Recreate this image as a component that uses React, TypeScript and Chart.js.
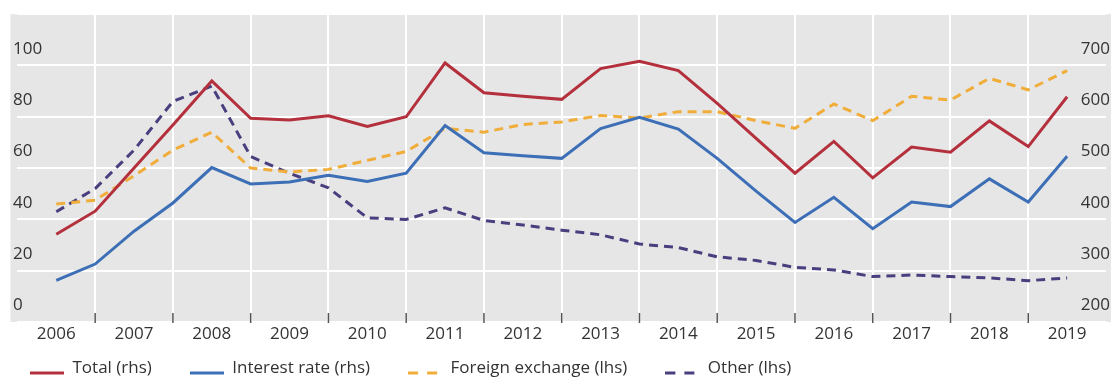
import React, { useEffect, useRef } from 'react';
import { Chart, registerables } from 'chart.js';

Chart.register(...registerables);

// Half-year observation periods
const periods = [
  'Jun 2006', 'Dec 2006', 'Jun 2007', 'Dec 2007', 'Jun 2008', 'Dec 2008',
  'Jun 2009', 'Dec 2009', 'Jun 2010', 'Dec 2010', 'Jun 2011', 'Dec 2011',
  'Jun 2012', 'Dec 2012', 'Jun 2013', 'Dec 2013', 'Jun 2014', 'Dec 2014',
  'Jun 2015', 'Dec 2015', 'Jun 2016', 'Dec 2016', 'Jun 2017', 'Dec 2017',
  'Jun 2018', 'Dec 2018', 'Jun 2019',
];

const yearLabels = [
  '2006', '2007', '2008', '2009', '2010', '2011', '2012',
  '2013', '2014', '2015', '2016', '2017', '2018', '2019',
];

const yearBoundaries = [2007, 2008, 2009, 2010, 2011, 2012, 2013, 2014, 2015, 2016, 2017, 2018, 2019];

// Right-hand scale
const totalRhs = [
  371, 416, 500, 584, 670, 597, 594, 602, 581, 600, 705, 647, 640, 634,
  694, 708, 690, 626, 558, 490, 552, 481, 541, 531, 592, 542, 639,
];
const interestRateRhs = [
  281, 313, 377, 432, 501, 469, 473, 486, 474, 490, 583, 530, 524, 519,
  577, 599, 576, 519, 455, 394, 443, 382, 434, 425, 479, 434, 523,
];

// Left-hand scale
const foreignExchangeLhs = [
  46, 47.5, 57, 67, 74, 60, 58.5, 59.5, 63, 66.5, 75.5, 74, 77, 78,
  80.5, 79.5, 82, 82, 78.5, 75.5, 85, 78.5, 88, 86.5, 95, 90.5, 98,
];
const otherLhs = [
  43, 52, 67, 86, 92, 64.5, 58, 52.3, 40.6, 40, 44.5, 39.6, 37.8, 35.8,
  34, 30.4, 29, 25.4, 24, 21.3, 20.3, 17.7, 18.3, 17.7, 17.2, 16.1, 17.2,
];

const leftMin = 0;
const leftMax = 120;
const leftStep = 20;
const rightMin = 200;
const rightMax = 800;
const rightStep = 100;

const RED = '#b3303c';
const BLUE = '#3d6fb6';
const ORANGE = '#f0ad3a';
const PURPLE = '#4a3f7e';
const TEXT = '#333333';
const FONT = { family: "'Open Sans', sans-serif", size: 17 };

function periodToX(p: string): number {
  const [m, y] = p.split(' ');
  return Number(y) + (m === 'Jun' ? 0.5 : 1);
}

function makeSwatch(color: string, dash: number[]): HTMLCanvasElement {
  const c = document.createElement('canvas');
  c.width = 34;
  c.height = 16;
  const ctx = c.getContext('2d');
  if (ctx) {
    ctx.strokeStyle = color;
    ctx.lineWidth = 3;
    ctx.setLineDash(dash);
    ctx.beginPath();
    ctx.moveTo(0, 12.5);
    ctx.lineTo(34, 12.5);
    ctx.stroke();
  }
  return c;
}

const backgroundPlugin = {
  id: 'grayBackground',
  beforeDraw(chart: any) {
    const { ctx, chartArea } = chart;
    ctx.save();
    ctx.fillStyle = '#e6e6e6';
    ctx.fillRect(chartArea.left - 7, chartArea.top, chartArea.right - chartArea.left + 12, chartArea.bottom - chartArea.top);
    ctx.restore();
  },
};

const tickMarksPlugin = {
  id: 'innerTickMarks',
  afterDraw(chart: any) {
    const s = chart.scales.xg;
    const { ctx, chartArea } = chart;
    ctx.save();
    ctx.strokeStyle = '#555555';
    ctx.lineWidth = 1.5;
    s.ticks.forEach((t: any) => {
      const px = s.getPixelForValue(t.value);
      ctx.beginPath();
      ctx.moveTo(px, chartArea.bottom - 9);
      ctx.lineTo(px, chartArea.bottom + 1);
      ctx.stroke();
    });
    ctx.restore();
  },
};

export default function App() {
  const ref = useRef<HTMLCanvasElement | null>(null);

  useEffect(() => {
    if (!ref.current) return;
    const toXY = (vals: number[]) => periods.map((p, i) => ({ x: periodToX(p), y: vals[i] }));
    const dashed = [9, 6];

    const chart = new Chart(ref.current, {
      type: 'line',
      data: {
        datasets: [
          {
            label: 'Total (rhs)',
            data: toXY(totalRhs),
            borderColor: RED,
            backgroundColor: RED,
            borderWidth: 3,
            pointRadius: 0,
            pointStyle: makeSwatch(RED, []),
            xAxisID: 'x',
            yAxisID: 'y2',
          },
          {
            label: 'Interest rate (rhs)',
            data: toXY(interestRateRhs),
            borderColor: BLUE,
            backgroundColor: BLUE,
            borderWidth: 3,
            pointRadius: 0,
            pointStyle: makeSwatch(BLUE, []),
            xAxisID: 'x',
            yAxisID: 'y2',
          },
          {
            label: 'Foreign exchange (lhs)',
            data: toXY(foreignExchangeLhs),
            borderColor: ORANGE,
            backgroundColor: ORANGE,
            borderWidth: 3,
            borderDash: dashed,
            pointRadius: 0,
            pointStyle: makeSwatch(ORANGE, [10, 9]),
            xAxisID: 'x',
            yAxisID: 'y',
          },
          {
            label: 'Other (lhs)',
            data: toXY(otherLhs),
            borderColor: PURPLE,
            backgroundColor: PURPLE,
            borderWidth: 3,
            borderDash: dashed,
            pointRadius: 0,
            pointStyle: makeSwatch(PURPLE, [10, 9]),
            xAxisID: 'x',
            yAxisID: 'y',
          },
        ] as any,
      },
      options: {
        responsive: false,
        animation: false,
        devicePixelRatio: 1,
        layout: { padding: { left: -8, top: 14, right: 0, bottom: 0 } },
        scales: {
          x: {
            type: 'linear',
            position: 'bottom',
            weight: 0,
            min: Number(yearLabels[0]),
            max: Number(yearLabels[yearLabels.length - 1]) + 1,
            afterBuildTicks: (s: any) => {
              s.ticks = yearLabels.map((y) => ({ value: Number(y) + 0.5 }));
            },
            afterFit: (s: any) => {
              s.height = 26;
            },
            ticks: {
              autoSkip: false,
              maxRotation: 0,
              minRotation: 0,
              padding: 2,
              color: TEXT,
              font: FONT,
              callback: (_v: any, i: number) => yearLabels[i],
            },
            grid: { display: false, drawTicks: false },
            border: { display: false },
          },
          xg: {
            type: 'linear',
            position: 'bottom',
            weight: 1,
            min: Number(yearLabels[0]),
            max: Number(yearLabels[yearLabels.length - 1]) + 1,
            afterBuildTicks: (s: any) => {
              s.ticks = yearBoundaries.map((v) => ({ value: v }));
            },
            afterFit: (s: any) => {
              s.height = -26;
            },
            ticks: { display: false },
            grid: { color: '#ffffff', lineWidth: 2, drawTicks: false },
            border: { display: false },
          },
          y: {
            type: 'linear',
            position: 'left',
            min: leftMin,
            max: leftMax,
            afterFit: (s: any) => {
              s.width = 25.4;
            },
            ticks: {
              stepSize: leftStep,
              mirror: true,
              padding: -4.4,
              labelOffset: -16.7,
              color: TEXT,
              font: FONT,
              callback: (v: any) => (v === leftMax ? '' : String(v)),
            },
            grid: { color: '#ffffff', lineWidth: 2, drawTicks: false },
            border: { display: false },
          },
          y2: {
            type: 'linear',
            position: 'right',
            min: rightMin,
            max: rightMax,
            afterFit: (s: any) => {
              s.width = 7;
            },
            ticks: {
              stepSize: rightStep,
              mirror: true,
              padding: 4,
              labelOffset: -16.7,
              color: TEXT,
              font: FONT,
              callback: (v: any) => (v === rightMax ? '' : String(v)),
            },
            grid: { display: false, drawTicks: false },
            border: { display: false },
          },
        },
        plugins: {
          legend: {
            display: true,
            position: 'bottom',
            align: 'start',
            labels: {
              usePointStyle: true,
              pointStyleWidth: 34,
              padding: 38,
              color: TEXT,
              font: FONT,
            },
          },
          tooltip: { enabled: false },
        },
      } as any,
      plugins: [backgroundPlugin, tickMarksPlugin],
    });
    return () => chart.destroy();
  }, []);

  return (
    <div style={{ position: 'fixed', left: 0, top: 0, width: 1113, height: 378, overflow: 'hidden', background: '#ffffff' }}>
      <canvas ref={ref} width={1113} height={413} style={{ display: 'block' }} />
    </div>
  );
}
